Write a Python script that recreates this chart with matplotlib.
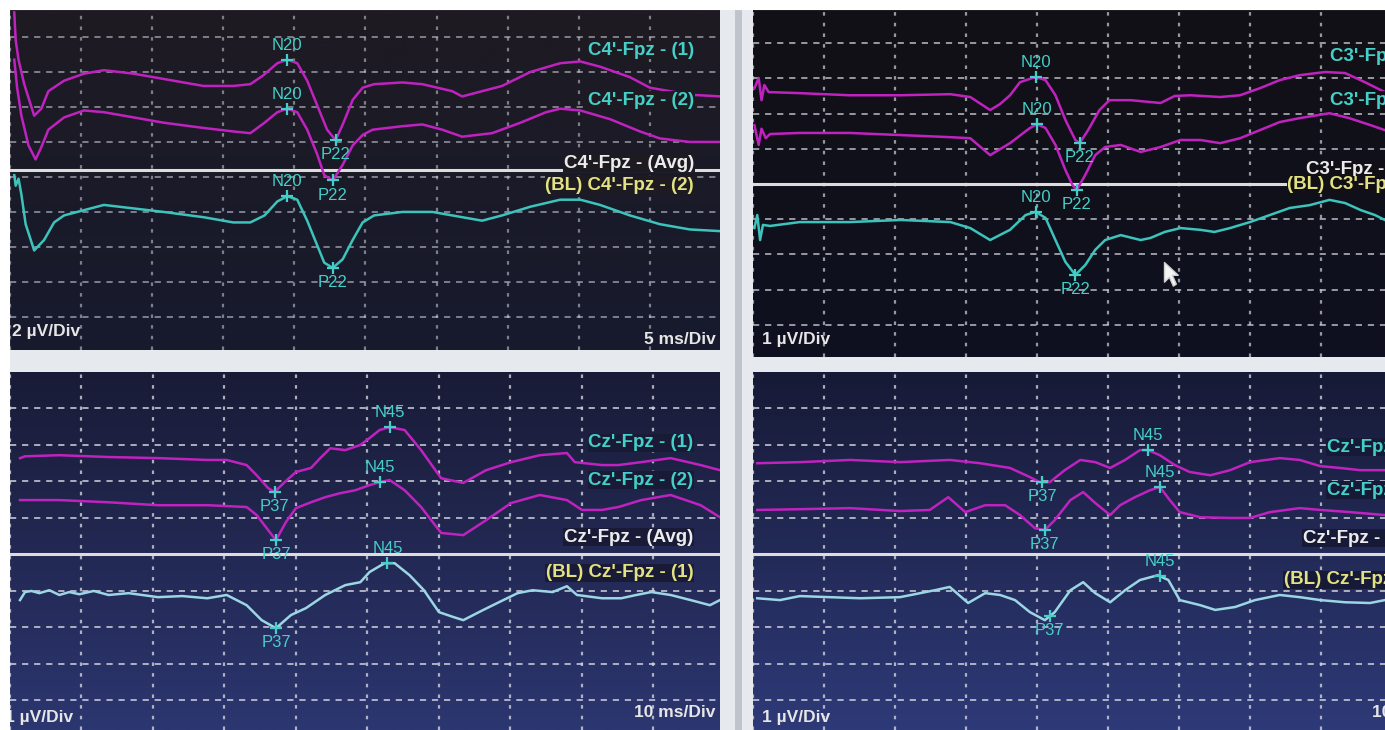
import numpy as np
import matplotlib
matplotlib.use("Agg")
import matplotlib.pyplot as plt
from matplotlib import font_manager, transforms
from matplotlib.colors import LinearSegmentedColormap
from matplotlib.path import Path
from matplotlib.lines import Line2D

# ======================= DATA (time in ms, amplitude in µV as displayed) =======================
# ---- Top-left: C4'-Fpz, 5 ms/Div, 2 µV/Div ----
tl_t1 = [0.3, 0.4, 0.6, 1.0, 1.7, 2.2, 2.7, 3.8, 5.2, 6.6, 8.7, 10.8, 12.2, 13.6, 15.7, 16.9, 17.8, 18.8,
         19.5, 20.2, 20.9, 21.6, 22.3, 22.9, 23.4, 24.1, 24.8, 25.6, 27.6, 29.0, 31.1, 31.8, 33.2, 34.6,
         36.6, 38.7, 40.1, 41.5, 43.6, 45.0, 47.8, 50.0]
tl_v1 = [17.4, 15.8, 14.7, 13.3, 11.5, 11.9, 12.9, 13.5, 13.9, 14.1, 13.9, 13.6, 13.4, 13.2, 13.2, 13.3,
         13.8, 14.5, 14.7, 14.5, 13.5, 12.1, 10.7, 10.1, 11.0, 12.4, 13.1, 13.3, 13.4, 13.3, 12.9, 12.6,
         12.9, 13.2, 14.0, 14.5, 14.6, 14.3, 13.7, 13.1, 12.7, 12.6]
tl_t2 = [0.3, 0.5, 0.8, 1.3, 1.8, 2.2, 2.7, 3.8, 5.2, 6.6, 8.7, 10.8, 13.6, 15.7, 16.9, 17.9, 18.8, 19.5,
         20.2, 20.9, 21.6, 22.1, 22.7, 23.4, 24.1, 24.8, 25.5, 27.6, 29.0, 30.4, 31.8, 33.9, 35.9, 37.7,
         38.7, 40.1, 42.2, 44.3, 45.7, 47.8, 50.0]
tl_v2 = [14.7, 13.1, 11.5, 9.8, 9.0, 9.7, 10.7, 11.4, 11.8, 11.7, 11.4, 11.1, 10.8, 10.6, 10.5, 11.1,
         11.7, 11.9, 11.7, 10.7, 9.3, 8.1, 7.8, 8.7, 9.8, 10.4, 10.7, 10.9, 11.0, 10.7, 10.3, 10.5, 11.1,
         11.7, 11.9, 11.8, 11.3, 10.6, 10.2, 10.0, 10.0]
tl_t3 = [0.3, 0.4, 0.6, 0.8, 1.1, 1.7, 2.4, 3.1, 3.8, 5.2, 6.6, 8.7, 10.8, 13.6, 15.7, 16.9, 17.9, 18.8,
         19.5, 20.2, 20.9, 21.6, 22.1, 22.7, 23.4, 24.1, 24.8, 25.6, 27.6, 29.7, 31.8, 33.2, 34.6, 36.6,
         38.7, 40.1, 41.5, 43.6, 45.7, 47.8, 50.0]
tl_v3 = [8.1, 7.5, 7.9, 7.0, 5.3, 3.8, 4.4, 5.4, 5.8, 6.1, 6.4, 6.2, 6.0, 5.7, 5.4, 5.4, 5.8, 6.6, 6.9,
         6.7, 5.5, 4.1, 3.1, 2.8, 3.3, 4.4, 5.4, 5.8, 6.0, 6.0, 5.7, 5.5, 5.8, 6.3, 6.7, 6.7, 6.4, 5.8,
         5.3, 5.0, 4.9]
tl_baseline = 8.4
tl_n_lat = [19.5, 19.5, 19.5]   # N20 per trace
tl_p_lat = [22.9, 22.7, 22.7]   # P22 per trace

# ---- Top-right: C3'-Fpz, 1 µV/Div ----
tr_t1 = [0.1, 0.4, 0.6, 0.8, 1.1, 3.3, 6.8, 10.4, 13.9, 15.3, 16.7, 17.4, 18.1, 18.8, 19.9, 20.6, 21.3,
         22.0, 22.7, 23.0, 23.6, 24.4, 25.1, 26.6, 28.7, 29.7, 30.8, 32.9, 34.3, 35.7, 37.1, 38.5, 40.3,
         41.7, 43.1, 44.5]
tr_v1 = [6.72, 7.01, 6.38, 6.81, 6.61, 6.58, 6.52, 6.52, 6.55, 6.47, 6.10, 6.27, 6.52, 6.89, 7.04, 6.95,
         6.52, 5.82, 5.25, 5.16, 5.53, 6.10, 6.38, 6.38, 6.30, 6.50, 6.52, 6.47, 6.52, 6.72, 6.95, 7.09,
         7.18, 7.15, 6.89, 6.61]
tr_t2 = [0.1, 0.4, 0.6, 0.9, 1.2, 3.3, 6.8, 10.4, 13.9, 15.3, 16.7, 18.1, 19.5, 20.0, 20.6, 21.3, 22.0,
         22.5, 22.8, 23.4, 24.1, 24.8, 25.9, 27.3, 28.7, 30.1, 31.5, 32.9, 34.3, 35.7, 37.1, 38.5, 40.6,
         42.0, 43.5, 44.5]
tr_v2 = [5.67, 5.11, 5.57, 5.30, 5.42, 5.45, 5.45, 5.39, 5.33, 5.30, 4.82, 5.16, 5.59, 5.70, 5.59, 5.11,
         4.40, 3.97, 3.83, 4.26, 4.82, 5.05, 5.11, 4.91, 5.05, 5.25, 5.25, 5.16, 5.30, 5.53, 5.76, 5.87,
         6.01, 5.87, 5.67, 5.53]
tr_t3 = [0.1, 0.3, 0.5, 0.7, 1.2, 3.3, 6.8, 10.4, 13.9, 15.3, 16.7, 18.1, 19.2, 19.9, 20.6, 21.3, 22.0,
         22.7, 23.4, 24.1, 24.8, 25.9, 27.3, 28.0, 29.0, 30.1, 31.5, 32.5, 33.6, 35.0, 36.4, 37.8, 39.2,
         40.6, 41.7, 42.8, 43.8, 44.5]
tr_v3 = [2.75, 3.12, 2.41, 2.84, 2.81, 2.92, 2.92, 2.98, 2.92, 2.75, 2.41, 2.70, 3.12, 3.21, 3.04, 2.41,
         1.79, 1.42, 1.70, 2.13, 2.41, 2.55, 2.41, 2.47, 2.64, 2.75, 2.70, 2.64, 2.75, 2.92, 3.12, 3.32,
         3.40, 3.55, 3.46, 3.26, 3.12, 2.98]
tr_baseline = 4.0
tr_n_lat = [19.9, 20.0, 19.9]
tr_p_lat = [23.0, 22.8, 22.7]

# ---- Bottom-left: Cz'-Fpz, 10 ms/Div, 1 µV/Div ----
bl_t1 = [1.4, 2.1, 6.9, 13.8, 20.7, 27.6, 30.3, 33.1, 34.5, 36.1, 37.0, 38.3, 40.0, 42.1, 43.4, 44.8,
         46.9, 49.0, 50.3, 51.7, 53.1, 55.2, 57.5, 60.3, 63.4, 66.6, 70.1, 74.1, 77.9, 79.0, 82.8, 85.1,
         88.3, 92.4, 96.6, 99.3]
bl_v1 = [6.63, 6.68, 6.71, 6.66, 6.63, 6.58, 6.58, 6.44, 6.16, 5.81, 5.70, 5.95, 6.25, 6.36, 6.63, 6.90,
         6.85, 6.99, 7.18, 7.40, 7.48, 7.40, 6.85, 6.08, 5.95, 6.30, 6.52, 6.71, 6.77, 6.52, 6.44, 6.44,
         6.52, 6.63, 6.44, 6.30]
bl_t2 = [1.4, 6.9, 13.8, 20.7, 27.6, 33.1, 34.5, 36.1, 37.2, 38.6, 40.0, 42.1, 44.1, 46.2, 48.3, 50.3,
         51.7, 53.1, 55.2, 57.5, 60.3, 63.4, 66.6, 70.1, 74.1, 77.9, 80.0, 82.8, 85.1, 88.3, 92.4, 96.6,
         99.3]
bl_v2 = [5.48, 5.48, 5.42, 5.34, 5.34, 5.29, 5.07, 4.66, 4.38, 4.88, 5.26, 5.42, 5.56, 5.67, 5.75, 5.89,
         5.97, 6.03, 5.75, 5.29, 4.58, 4.52, 4.93, 5.40, 5.62, 5.48, 5.21, 5.21, 5.29, 5.48, 5.62, 5.34,
         5.01]
bl_t3 = [1.4, 2.1, 3.0, 4.1, 5.5, 6.9, 8.3, 9.7, 11.7, 13.8, 16.6, 20.7, 24.1, 27.6, 30.3, 33.1, 35.2,
         37.2, 39.3, 41.4, 44.1, 46.9, 49.0, 50.3, 52.4, 53.8, 55.9, 57.9, 60.0, 62.1, 63.4, 66.2, 69.0,
         71.0, 73.1, 75.9, 77.9, 79.3, 82.8, 85.5, 87.6, 89.7, 92.4, 95.2, 97.9, 99.3]
bl_v3 = [2.74, 2.96, 2.99, 2.93, 3.01, 2.88, 2.96, 2.90, 2.99, 2.88, 2.93, 2.82, 2.85, 2.79, 2.88, 2.60,
         2.19, 1.97, 2.33, 2.52, 2.88, 3.15, 3.23, 3.51, 3.75, 3.75, 3.42, 3.01, 2.41, 2.27, 2.19, 2.47,
         2.74, 2.93, 3.01, 2.96, 3.12, 2.88, 2.79, 2.79, 2.88, 2.96, 2.88, 2.74, 2.60, 2.74]
bl_baseline = 4.0
bl_n_lat = [53.1, 51.7, 52.8]   # N45 per trace
bl_p_lat = [37.0, 37.2, 37.2]   # P37 per trace

# ---- Bottom-right: Cz'-Fpz, 1 µV/Div ----
br_t1 = [0.6, 6.6, 13.7, 20.7, 27.7, 32.0, 36.2, 39.0, 40.4, 41.8, 43.9, 46.1, 48.2, 50.3, 52.4, 54.5,
         55.6, 57.3, 59.4, 61.5, 64.4, 67.2, 70.0, 74.2, 77.0, 79.9, 82.7, 85.5, 89.0]
br_v1 = [6.49, 6.52, 6.58, 6.52, 6.58, 6.49, 6.36, 6.11, 5.97, 5.97, 6.30, 6.58, 6.52, 6.36, 6.58, 6.85,
         6.85, 6.71, 6.44, 6.25, 6.16, 6.30, 6.52, 6.63, 6.58, 6.41, 6.36, 6.30, 6.30]
br_t2 = [0.6, 6.6, 13.7, 20.7, 24.9, 27.5, 29.9, 32.7, 35.5, 37.6, 39.7, 41.1, 42.5, 44.7, 46.5, 48.2,
         50.3, 51.7, 53.8, 55.9, 57.3, 58.7, 60.1, 63.0, 67.2, 70.0, 72.8, 77.0, 79.9, 84.1, 89.0]
br_v2 = [5.21, 5.23, 5.26, 5.18, 5.21, 5.56, 5.15, 5.34, 5.34, 5.07, 4.71, 4.66, 4.93, 5.48, 5.70, 5.40,
         5.07, 5.34, 5.56, 5.75, 5.84, 5.48, 5.15, 5.01, 4.99, 4.99, 5.15, 5.26, 5.21, 5.15, 5.07]
br_t3 = [0.6, 3.8, 6.6, 10.8, 15.1, 20.7, 25.6, 27.7, 30.3, 32.7, 34.8, 36.9, 39.0, 41.1, 42.5, 44.7,
         46.5, 48.2, 50.3, 52.4, 54.5, 57.0, 58.5, 60.1, 63.0, 65.1, 67.9, 70.7, 74.2, 77.0, 79.9, 83.4,
         86.9, 89.0]
br_v3 = [2.79, 2.74, 2.85, 2.82, 2.79, 2.82, 3.01, 3.10, 2.66, 2.93, 2.88, 2.74, 2.41, 2.19, 2.41, 3.01,
         3.23, 2.93, 2.68, 3.01, 3.29, 3.42, 3.29, 2.74, 2.60, 2.47, 2.55, 2.74, 2.88, 2.82, 2.74, 2.68,
         2.66, 2.74]
br_baseline = 4.0
br_n_lat = [55.6, 57.3, 57.3]
br_p_lat = [40.7, 41.1, 41.8]

# ---- text ----
tl_labels = ["C4'-Fpz - (1)", "C4'-Fpz - (2)", "C4'-Fpz - (Avg)", "(BL) C4'-Fpz - (2)"]
tr_labels = ["C3'-Fpz - (1)", "C3'-Fpz - (2)", "C3'-Fpz - (Avg)", "(BL) C3'-Fpz - (2)"]
bl_labels = ["Cz'-Fpz - (1)", "Cz'-Fpz - (2)", "Cz'-Fpz - (Avg)", "(BL) Cz'-Fpz - (1)"]
br_labels = ["Cz'-Fpz - (1)", "Cz'-Fpz - (2)", "Cz'-Fpz - (Avg)", "(BL) Cz'-Fpz - (1)"]
top_peaks = ("N20", "P22")
bottom_peaks = ("N45", "P37")
ms_per_div = [5, 5, 10, 10]
uv_per_div = [2, 1, 1, 1]

# ======================= STYLE / LAYOUT =======================
W, H = 1385, 730
names = {f.name for f in font_manager.fontManager.ttflist}
NARROW = 'Liberation Sans Narrow' if 'Liberation Sans Narrow' in names else 'Liberation Sans'
FAM = [NARROW, 'DejaVu Sans']

MAGENTA = '#c022c0'
TEAL = '#3cc4bc'
LIGHTCYAN = '#9cd6e4'
LBL_CYAN = '#44d0c8'
LBL_WHITE = '#ececec'
LBL_YELLOW = '#e2e282'
GRID = '#cfd2dc'

fig = plt.figure(figsize=(W / 100, H / 100), dpi=100)
fig.patch.set_facecolor('#e6eaee')


def rect(x0, y0, x1, y1):
    return [x0 / W, 1 - y1 / H, (x1 - x0) / W, (y1 - y0) / H]


panels = [
    dict(rect=rect(10, 10, 720, 350), xlim=(0.28, 49.93), ylim=(-1.89, 17.54),
         traces=[(tl_t1, tl_v1, MAGENTA), (tl_t2, tl_v2, MAGENTA), (tl_t3, tl_v3, TEAL)],
         base=tl_baseline, nlat=tl_n_lat, plat=tl_p_lat, peaks=top_peaks, labels=tl_labels,
         lbl_x=48.1, lbl_y=[0.882, 0.735, 0.55, 0.485], ms_x=49.6, ms_y=0.03,
         uv_x=0.003, uv_y=0.055, bg=('#1e1a22', '#171a2e'), gridalpha=0.55),
    dict(rect=rect(753, 10, 1385, 357), xlim=(0.0, 44.51), ylim=(-0.91, 8.94),
         traces=[(tr_t1, tr_v1, MAGENTA), (tr_t2, tr_v2, MAGENTA), (tr_t3, tr_v3, TEAL)],
         base=tr_baseline, nlat=tr_n_lat, plat=tr_p_lat, peaks=top_peaks, labels=tr_labels,
         lbl_x=48.1, lbl_y=[0.865, 0.74, 0.539, 0.496], ms_x=49.6, ms_y=0.03,
         uv_x=0.014, uv_y=0.05, bg=('#121016', '#0f1020'), gridalpha=0.7),
    dict(rect=rect(10, 372, 720, 730), xlim=(1.38, 99.31), ylim=(-0.82, 8.99),
         traces=[(bl_t1, bl_v1, MAGENTA), (bl_t2, bl_v2, MAGENTA), (bl_t3, bl_v3, LIGHTCYAN)],
         base=bl_baseline, nlat=bl_n_lat, plat=bl_p_lat, peaks=bottom_peaks, labels=bl_labels,
         lbl_x=95.6, lbl_y=[0.802, 0.698, 0.539, 0.439], ms_x=98.6, ms_y=0.05,
         uv_x=-0.007, uv_y=0.034, bg=('#191b36', '#2c3670'), gridalpha=0.8),
    dict(rect=rect(753, 372, 1385, 730), xlim=(0.0, 89.01), ylim=(-0.82, 8.99),
         traces=[(br_t1, br_v1, MAGENTA), (br_t2, br_v2, MAGENTA), (br_t3, br_v3, LIGHTCYAN)],
         base=br_baseline, nlat=br_n_lat, plat=br_p_lat, peaks=bottom_peaks, labels=br_labels,
         lbl_x=95.6, lbl_y=[0.79, 0.67, 0.536, 0.419], ms_x=98.6, ms_y=0.05,
         uv_x=0.014, uv_y=0.034, bg=('#171a36', '#2e3a78'), gridalpha=0.8),
]

label_colors = [LBL_CYAN, LBL_CYAN, LBL_WHITE, LBL_YELLOW]

for i, p in enumerate(panels):
    ax = fig.add_axes(p['rect'])
    cmap = LinearSegmentedColormap.from_list('bg%d' % i, [p['bg'][1], p['bg'][0]])
    ax.imshow(np.linspace(0, 1, 256).reshape(-1, 1), cmap=cmap, aspect='auto',
              extent=(0, 1, 0, 1), transform=ax.transAxes, origin='lower', zorder=0)
    ax.set_xlim(*p['xlim'])
    ax.set_ylim(*p['ylim'])
    for s in ax.spines.values():
        s.set_visible(False)
    ax.tick_params(length=0, labelbottom=False, labelleft=False)

    # grid: divisions
    xt = np.arange(0, p['xlim'][1] + 1e-6, ms_per_div[i])
    yt = np.arange(0, p['ylim'][1], uv_per_div[i])
    ax.set_xticks(xt)
    ax.set_yticks(yt)
    ax.grid(axis='x', color=GRID, linestyle=(0, (1.6, 3.2)), linewidth=1.6, alpha=p['gridalpha'], zorder=1)
    ax.grid(axis='y', color=GRID, linestyle=(0, (3.2, 3.0)), linewidth=1.4, alpha=p['gridalpha'], zorder=1)
    ax.set_axisbelow(False)

    # baseline separator
    ax.axhline(p['base'], color='#dcdcdc', lw=2.2, zorder=3)

    # traces + peak markers
    for k, (t, v, c) in enumerate(p['traces']):
        ax.plot(t, v, color=c, lw=1.8, zorder=4, solid_joinstyle='round')
        for lat, name, sign in ((p['nlat'][k], p['peaks'][0], 1), (p['plat'][k], p['peaks'][1], -1)):
            yv = np.interp(lat, t, v)
            ax.plot([lat], [yv], marker='+', ms=8.5, mew=1.6, color=LBL_CYAN, zorder=6)
            ax.annotate(name, (lat, yv), xytext=(0, 10.5 * sign), textcoords='offset points',
                        ha='center', va='center', color=LBL_CYAN, fontsize=12,
                        family=FAM, zorder=7, annotation_clip=False)

    # channel labels (screen overlays, partly off-screen on the right panels)
    bt = transforms.blended_transform_factory(ax.transData, ax.transAxes)
    for lab, ly, lc in zip(p['labels'], p['lbl_y'], label_colors):
        ax.text(p['lbl_x'], ly, lab, transform=bt, ha='right', va='center', color=lc,
                fontsize=13.5, fontweight='bold', family=FAM, zorder=8, clip_on=True,
                bbox=dict(facecolor=p['bg'][0], edgecolor='none', pad=0.5))

    # scale labels
    ax.text(p['uv_x'], p['uv_y'], '%d µV/Div' % uv_per_div[i], transform=ax.transAxes,
            ha='left', va='center', color='#e6e6e6', fontsize=12.5, fontweight='bold',
            family=FAM, zorder=8, clip_on=True)
    ax.text(p['ms_x'], p['ms_y'], '%d ms/Div' % ms_per_div[i], transform=bt,
            ha='right', va='center', color='#e6e6e6', fontsize=12.5, fontweight='bold',
            family=FAM, zorder=8, clip_on=True)

    if i == 1:
        # mouse cursor on the screen
        cur = Path([(0, 0), (0, -20), (5, -15), (9, -24), (12, -22), (8, -13), (14, -13), (0, 0)],
                   [Path.MOVETO] + [Path.LINETO] * 6 + [Path.CLOSEPOLY])
        ax.plot([0.650], [0.274], marker=cur, ms=34, color='#f4f4f4', mec='#d0d0d0',
                transform=ax.transAxes, zorder=9)

# white frame edges and divider line between left/right columns
fig.add_artist(Line2D([738 / W, 738 / W], [0, 1], color='#bfc4ca', lw=5))
fig.add_artist(Line2D([0, 1], [1 - 4 / H, 1 - 4 / H], color='white', lw=8))
fig.add_artist(Line2D([4 / W, 4 / W], [0, 1], color='white', lw=8))

fig.savefig('out.png', dpi=100, facecolor=fig.get_facecolor())
